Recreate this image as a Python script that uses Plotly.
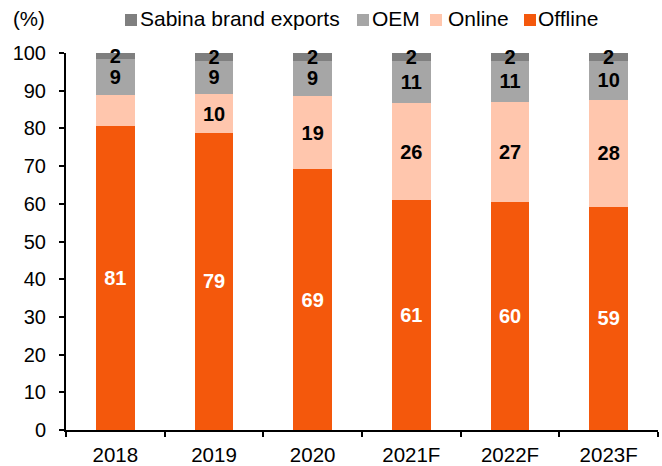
import plotly.graph_objects as go

years = ["2018", "2019", "2020", "2021F", "2022F", "2023F"]
offline = [80.6, 78.8, 69.2, 61.0, 60.4, 59.2]
online = [8.3, 10.3, 19.4, 25.7, 26.6, 28.4]
oem = [9.4, 8.9, 9.4, 11.2, 10.9, 10.3]
sabina = [1.7, 2.0, 2.0, 2.1, 2.1, 2.1]
online_labels = ["", "10", "19", "26", "27", "28"]

series_names = ["Offline", "Online", "OEM", "Sabina brand exports"]
series_colors = ["#F4580C", "#FFC6AD", "#A6A6A6", "#7F7F7F"]

FONT = "Liberation Sans, Arial, sans-serif"
FS = 20

# plot area in pixels
W, H = 662, 466
ML, MR, MT, MB = 66, 4, 53, 36
PW, PH = W - ML - MR, H - MT - MB


def px_x(px):
    return (px - ML) / PW


def px_y(py):
    return (H - MB - py) / PH


fig = go.Figure()
black_font = dict(family=FONT, size=FS, color="black", weight="bold")
white_font = dict(family=FONT, size=FS, color="white", weight="bold")

traces = [
    (offline, [f"{v:.0f}" for v in offline], white_font),
    (online, online_labels, black_font),
    (oem, [f"{v:.0f}" for v in oem], black_font),
    (sabina, [f"{v:.0f}" for v in sabina], black_font),
]
for (vals, labels, tfont), name, color in zip(traces, series_names, series_colors):
    fig.add_trace(go.Bar(
        x=years, y=vals, name=name, marker_color=color, marker_line_width=0,
        text=labels, textposition="inside", insidetextanchor="middle",
        constraintext="none", textangle=0, textfont=tfont, cliponaxis=False,
    ))

# manual legend (reversed order, as in reference)
legend_order = list(zip(series_names, series_colors))[::-1]
marker_left_px = [125, 357, 430, 524]
text_left_px = [140, 372, 448, 538]
shapes = []
annotations = []
for (name, color), mx, tx in zip(legend_order, marker_left_px, text_left_px):
    shapes.append(dict(
        type="rect", xref="paper", yref="paper",
        x0=px_x(mx), x1=px_x(mx + 12), y0=px_y(26), y1=px_y(14),
        fillcolor=color, line_width=0, layer="above",
    ))
    annotations.append(dict(
        text=name, xref="paper", yref="paper", x=px_x(tx - 1), y=px_y(19),
        xanchor="left", yanchor="middle", showarrow=False, borderpad=0,
        font=dict(family=FONT, size=21, color="black"),
    ))
annotations.append(dict(
    text="(%)", xref="paper", yref="paper", x=px_x(12), y=px_y(19),
    xanchor="left", yanchor="middle", showarrow=False, borderpad=0,
    font=dict(family=FONT, size=20.5, color="black"),
))

fig.update_layout(
    barmode="stack",
    bargap=0.61,
    width=W, height=H,
    margin=dict(l=ML, r=MR, t=MT, b=MB, autoexpand=False),
    paper_bgcolor="white", plot_bgcolor="white",
    font=dict(family=FONT, size=FS, color="black"),
    showlegend=False,
    shapes=shapes,
    annotations=annotations,
)

fig.update_yaxes(
    range=[0, 100], dtick=10, showgrid=False, zeroline=False,
    showline=True, linecolor="black", linewidth=2,
    ticks="outside", ticklen=5, tickwidth=2, tickcolor="black",
    ticklabelstandoff=9, automargin=False,
    tickfont=dict(family=FONT, size=20, color="black"),
)
fig.update_xaxes(
    showgrid=False, showline=True, linecolor="black", linewidth=2,
    ticks="outside", ticklen=5, tickwidth=2, tickcolor="black",
    tickson="boundaries", ticklabelstandoff=5, automargin=False,
    tickfont=dict(family=FONT, size=20.5, color="black"),
)

fig.write_html(
    "out.html",
    config={"displayModeBar": False},
    post_script="document.body.style.margin='0';document.body.style.overflow='hidden';",
)
